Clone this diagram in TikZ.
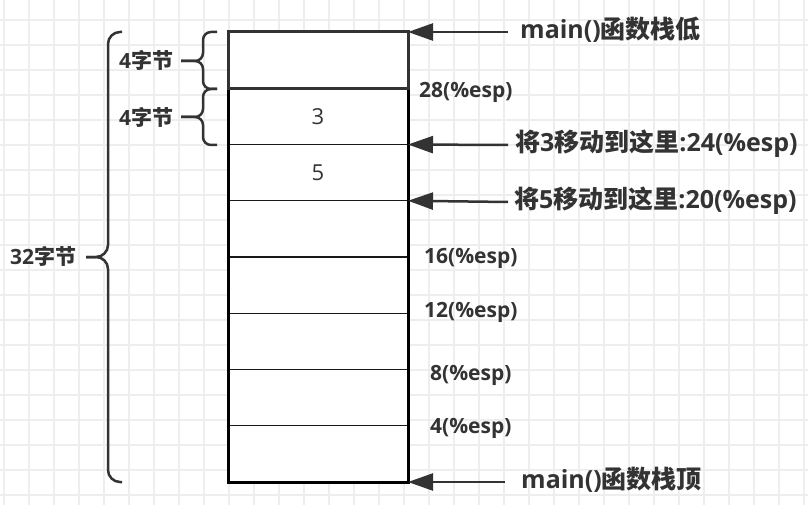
\documentclass[tikz,border=0pt]{standalone}
\usepackage{fontspec}
\setmainfont{Open Sans}
\newfontfamily\cjkf{Noto Sans CJK SC}
\usetikzlibrary{arrows.meta}
\definecolor{gridc}{HTML}{EEEEEE}
\definecolor{ink}{HTML}{333333}
\begin{document}
\begin{tikzpicture}[x=1pt,y=-1pt,
  cell/.style={minimum width=180pt,minimum height=56.25pt,inner sep=0pt,outer sep=0pt,fill=white},
  thinline/.style={draw=black!90,line width=1.3pt},
  bigtxt/.style={anchor=base west,inner sep=0pt,text=ink,font=\bfseries\fontsize{25}{25}\selectfont},
  smalltxt/.style={anchor=base west,inner sep=0pt,text=ink,font=\bfseries\fontsize{21}{21}\selectfont},
  ptr/.style={draw=ink,line width=2.5pt,-{Triangle[length=25pt,width=17pt]}},
  brace/.style={draw=ink,line width=2.5pt,rounded corners=8pt}]
\useasboundingbox (0,0) rectangle (808,505);
\fill[white] (0,0) rectangle (808,505);
\foreach \x in {4,29,...,804} \draw[gridc,line width=1.5pt] (\x,0) -- (\x,505);
\foreach \y in {20,45,...,495} \draw[gridc,line width=1.5pt] (0,\y) -- (808,\y);
% cells
\foreach \i in {1,...,8} {
  \node[cell] (c\i) at (318,{32+56.25*(\i-0.5)}) {};
}
\foreach \i in {2,...,7} \draw[thinline] (c\i.south west) -- (c\i.south east);
\draw[black,line width=3pt] (c2.north west) rectangle (c8.south east);
\draw[ink,line width=3pt] (c1.north west) rectangle (c1.south east);
\node[text=ink,font=\fontsize{22}{22}\selectfont] (v3) at (c2.center) {3};
\node[text=ink,font=\fontsize{22}{22}\selectfont] (v5) at (c3.center) {5};
% arrows
\coordinate (a1) at (508,32);
\coordinate (a2) at (508,145);
\coordinate (a3) at (508,202);
\coordinate (a4) at (505,482);
\draw[ptr] (a1) -- (c1.north east);
\draw[ptr] (a2) -- (c2.south east);
\draw[ptr] (a3) -- (c3.south east);
\draw[ptr] (a4) -- (c8.south east);
% labels
\node[bigtxt] (t1) at (520,39) {main(){\cjkf 函数栈低}};
\node[smalltxt] (t2) at (419,98) {28(\%esp)};
\node[bigtxt] (t3) at (515,152) {{\cjkf 将}3{\cjkf 移动到这里}:24(\%esp)};
\node[bigtxt] (t4) at (514,208) {{\cjkf 将}5{\cjkf 移动到这里}:20(\%esp)};
\node[smalltxt] (t5) at (424,263) {16(\%esp)};
\node[smalltxt] (t6) at (424,317) {12(\%esp)};
\node[smalltxt] (t7) at (430,380) {8(\%esp)};
\node[smalltxt] (t8) at (430,433) {4(\%esp)};
\node[bigtxt] (t9) at (521,488) {main(){\cjkf 函数栈顶}};
\node[smalltxt] (b1) at (119,69) {4{\cjkf 字节}};
\node[smalltxt] (b2) at (119,126) {4{\cjkf 字节}};
\node[smalltxt] (b3) at (10,264) {32{\cjkf 字节}};
% braces
\draw[brace] (217,32) -- (203,32) -- (203,61) -- (181,61);
\draw[brace] (181,61) -- (203,61) -- (203,89) -- (217,89);
\draw[brace] (217,89) -- (203,89) -- (203,117) -- (181,117);
\draw[brace] (181,117) -- (203,117) -- (203,145) -- (217,145);
\draw[brace,rounded corners=12pt] (122,32) -- (108,32) -- (108,257) -- (86,257);
\draw[brace,rounded corners=12pt] (86,257) -- (108,257) -- (108,482) -- (122,482);
\end{tikzpicture}
\end{document}
